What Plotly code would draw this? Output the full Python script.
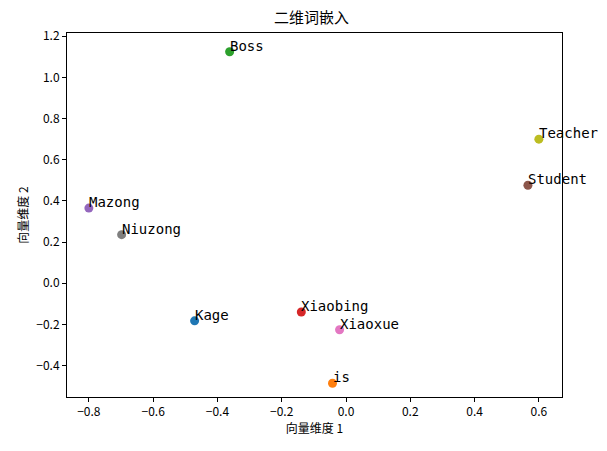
import plotly.graph_objects as go

words = ["Kage", "is", "Boss", "Xiaobing", "Mazong", "Student", "Xiaoxue", "Niuzong", "Teacher"]
xs = [-0.471, -0.042, -0.362, -0.139, -0.80, 0.566, -0.02, -0.698, 0.60]
ys = [-0.183, -0.486, 1.125, -0.14, 0.365, 0.476, -0.226, 0.236, 0.70]
colors = ["#1f77b4", "#ff7f0e", "#2ca02c", "#d62728", "#9467bd", "#8c564b", "#e377c2", "#7f7f7f", "#bcbd22"]

font = "Noto Sans CJK SC, DejaVu Sans"
fig = go.Figure()
for w, x, y, c in zip(words, xs, ys, colors):
    fig.add_trace(go.Scatter(x=[x], y=[y], mode="markers",
                             marker=dict(size=9, color=c), showlegend=False, cliponaxis=False))
    fig.add_annotation(x=x, y=y, text=w, showarrow=False, xanchor="left", yanchor="middle",
                       xshift=-2, yshift=6, font=dict(size=14, color="black", family="DejaVu Sans Mono"))

ax = dict(showgrid=False, zeroline=False, showline=True, mirror=True, linecolor="black",
          ticks="outside", ticklen=4, tickcolor="black", tickfont=dict(size=12, color="black"))
fig.update_layout(
    width=607, height=451, plot_bgcolor="white", paper_bgcolor="white",
    font=dict(family=font, color="black"),
    margin=dict(l=59, r=53, t=25, b=62),
    title=dict(text="二维词嵌入", x=0.5, xanchor="center", y=0.978, yanchor="middle", font=dict(size=15)),
    xaxis=dict(ax, range=[-0.868, 0.672], dtick=0.2, tickformat=".1f",
               title=dict(text="向量维度 1", font=dict(size=12), standoff=5)),
    yaxis=dict(ax, range=[-0.553, 1.216], dtick=0.2, tickformat=".1f",
               title=dict(text="向量维度 2", font=dict(size=12), standoff=5)),
)
fig.write_html("out.html")
